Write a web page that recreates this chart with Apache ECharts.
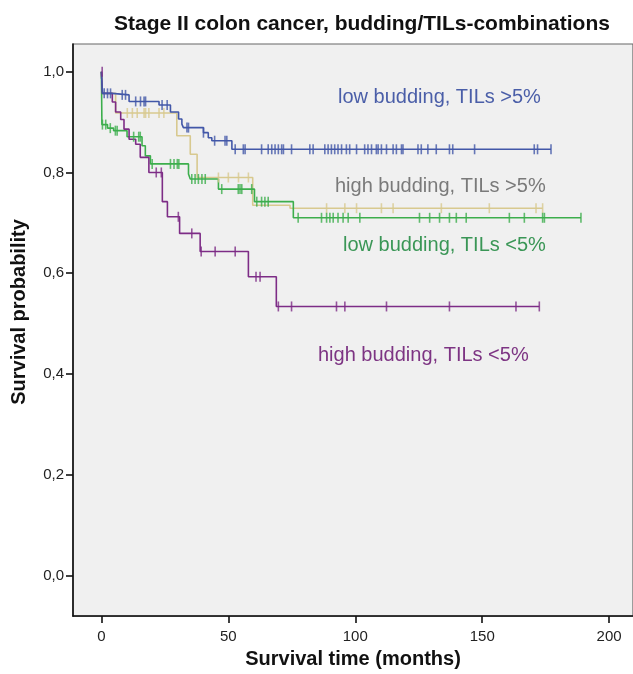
<!DOCTYPE html>
<html>
<head>
<meta charset="utf-8">
<script src="https://cdn.jsdelivr.net/npm/echarts@6/dist/echarts.min.js"></script>
<style>html,body{margin:0;padding:0;background:#fff}#c{width:633px;height:674px}</style>
</head>
<body>
<div id="c"></div>
<script>
// ---- data ----
var xTicks = [0, 50, 100, 150, 200];
var yTicks = [0, 0.2, 0.4, 0.6, 0.8, 1.0];

// low budding, TILs >5%
var blueTimes = [0, 0.4, 4.3, 10.9, 22.7, 27.2, 30.4, 31.7, 32.3, 40.2, 42.1, 43.5, 51.4, 177.1];
var blueSurv  = [1.0, 0.957, 0.954, 0.941, 0.934, 0.92, 0.906, 0.896, 0.889, 0.879, 0.869, 0.863, 0.846, 0.846];
var blueCens  = [1.1, 2.4, 3.6, 8.2, 9.5, 13.5, 15.4, 16.8, 17.4, 23.9, 25.9, 33.7, 34.3, 40.2, 44.6, 48.7, 49.4,
  52.7, 55.9, 56.6, 63.1, 65.7, 67.1, 68.4, 69.7, 71, 71.7, 74.9, 82.1, 83.4, 88, 89.3, 90.6, 91.9, 93.2, 94.6,
  96.5, 97.8, 100.5, 103.7, 105, 106.4, 108.3, 109, 110.3, 112.3, 114.9, 116.2, 118.2, 118.8, 124.7, 126, 128.6,
  131.9, 137.1, 138.4, 147, 170.5, 171.8, 177.1];

// high budding, TILs >5%
var tanTimes = [0, 0.4, 5.6, 29.7, 35, 37.7, 59.6, 74.3, 173.8];
var tanSurv  = [1.0, 0.957, 0.918, 0.873, 0.836, 0.79, 0.735, 0.729, 0.729];
var tanCens  = [10.2, 12.2, 14.1, 16.8, 17.4, 18.7, 22.7, 24.6, 46.1, 50, 54, 57.9, 88.7, 95.9, 100.5, 110.3,
  114.9, 133.9, 152.8, 171.2, 173.8];

// low budding, TILs <5%
var greenTimes = [0, 0.2, 2.4, 4.8, 10.1, 16, 17.3, 19.3, 34.3, 35, 46.1, 60.3, 75.6, 188.9];
var greenSurv  = [1.0, 0.895, 0.888, 0.883, 0.871, 0.853, 0.833, 0.817, 0.797, 0.787, 0.767, 0.742, 0.71, 0.71];
var greenCens  = [0.4, 1.7, 3.5, 5.5, 6.2, 12.7, 14.7, 15.3, 20, 27.2, 28.6, 29.9, 30.5, 35.6, 36.9, 38.2, 39.6,
  40.9, 47.4, 53.9, 54.6, 55.3, 59.2, 61.2, 63.1, 64.4, 65.7, 77.5, 86.7, 88.7, 90, 91.3, 93.2, 95.2, 97.2, 101.8,
  125.3, 129.3, 133.2, 137.1, 139.8, 143.7, 160.7, 166.6, 173.8, 174.5, 188.9];

// high budding, TILs <5%
var purpleTimes = [0, 0.4, 4.3, 5.6, 7.6, 8.9, 10.9, 13.5, 15.3, 18.7, 24, 26, 30.8, 38.9, 57.9, 68.9, 172.5];
var purpleSurv  = [1.0, 0.957, 0.94, 0.92, 0.905, 0.886, 0.866, 0.856, 0.83, 0.80, 0.742, 0.712, 0.679, 0.643, 0.593, 0.534, 0.534];
var purpleCens  = [0.3, 21.6, 23.6, 30.3, 35.6, 39.3, 44.8, 52.7, 60.9, 62.5, 69.7, 74.9, 92.6, 95.9, 112.3,
  137.1, 163.3, 172.5];

var groupNames = ['low budding, TILs >5%', 'high budding, TILs >5%', 'low budding, TILs <5%', 'high budding, TILs <5%'];

// ---- helpers ----
function stepPts(ts, ss) { return ts.map(function (t, i) { return [t, ss[i]]; }); }
function survAt(ts, ss, t) {
  var v = ss[0];
  for (var i = 0; i < ts.length; i++) { if (ts[i] <= t) v = ss[i]; }
  return v;
}
function censPts(ts, ss, cs) { return cs.map(function (c) { return [c, survAt(ts, ss, c)]; }); }

var colors = { blue: '#4257a8', tan: '#d8c98f', green: '#3cae4c', purple: '#7d2c86' };

function lineSeries(name, ts, ss, col) {
  return { name: name, type: 'line', step: 'end', data: stepPts(ts, ss), showSymbol: false, symbol: 'none',
    lineStyle: { color: col, width: 1.6 }, z: 3, silent: true, animation: false };
}
function censSeries(name, ts, ss, cs, col) {
  return { name: name + ' censored', type: 'scatter', data: censPts(ts, ss, cs), symbol: 'rect',
    symbolSize: [1.6, 10], itemStyle: { color: col }, z: 4, silent: true, animation: false };
}

var chart = echarts.init(document.getElementById('c'), null, { renderer: 'canvas' });
var font = 'Liberation Sans, Arial, sans-serif';
chart.setOption({
  animation: false,
  backgroundColor: '#ffffff',
  title: {
    text: 'Stage II colon cancer, budding/TILs-combinations',
    left: 357, top: 9, textAlign: 'center',
    textStyle: { fontFamily: font, fontSize: 21, fontWeight: 'bold', color: '#111' }
  },
  grid: { left: 73, right: -2, top: 44, bottom: 53, show: true, backgroundColor: '#f0f0f0', borderColor: '#666', borderWidth: 1.2 },
  xAxis: {
    type: 'value', min: -11.19, max: 209.4,
    name: 'Survival time (months)', nameLocation: 'middle', nameGap: 32,
    nameTextStyle: { fontFamily: font, fontSize: 20, fontWeight: 'bold', color: '#111' },
    axisLine: { show: true, onZero: false, lineStyle: { color: '#111', width: 1.6 } },
    axisTick: { show: true, length: 7, lineStyle: { color: '#111', width: 1.6 }, customValues: xTicks },
    axisLabel: { customValues: xTicks, fontFamily: font, fontSize: 15, color: '#222', margin: 13 },
    splitLine: { show: false }
  },
  yAxis: {
    type: 'value', min: -0.0807, max: 1.055,
    axisLine: { show: true, onZero: false, lineStyle: { color: '#111', width: 1.6 } },
    axisTick: { show: true, length: 7, lineStyle: { color: '#111', width: 1.6 }, customValues: yTicks },
    axisLabel: { customValues: yTicks, fontFamily: font, fontSize: 15, color: '#222', margin: 9,
      formatter: function (v) { return v.toFixed(1).replace('.', ','); } },
    splitLine: { show: false }
  },
  graphic: [
    { type: 'text', x: 19, y: 312, rotation: Math.PI / 2,
      style: { text: 'Survival probability', fill: '#111', font: 'bold 20px ' + font, align: 'center', verticalAlign: 'middle' } },
    { type: 'text', x: 338, y: 97, style: { text: groupNames[0], fill: '#4a5ea8', font: '20px ' + font, verticalAlign: 'middle' } },
    { type: 'text', x: 335, y: 186, style: { text: groupNames[1], fill: '#7a7a7a', font: '20px ' + font, verticalAlign: 'middle' } },
    { type: 'text', x: 343, y: 245, style: { text: groupNames[2], fill: '#3a9656', font: '20px ' + font, verticalAlign: 'middle' } },
    { type: 'text', x: 318, y: 355, style: { text: groupNames[3], fill: '#7d3483', font: '20px ' + font, verticalAlign: 'middle' } }
  ],
  series: [
    lineSeries(groupNames[1], tanTimes, tanSurv, colors.tan),
    censSeries(groupNames[1], tanTimes, tanSurv, tanCens, colors.tan),
    lineSeries(groupNames[2], greenTimes, greenSurv, colors.green),
    censSeries(groupNames[2], greenTimes, greenSurv, greenCens, colors.green),
    lineSeries(groupNames[3], purpleTimes, purpleSurv, colors.purple),
    censSeries(groupNames[3], purpleTimes, purpleSurv, purpleCens, colors.purple),
    lineSeries(groupNames[0], blueTimes, blueSurv, colors.blue),
    censSeries(groupNames[0], blueTimes, blueSurv, blueCens, colors.blue)
  ]
});
</script>
</body>
</html>
